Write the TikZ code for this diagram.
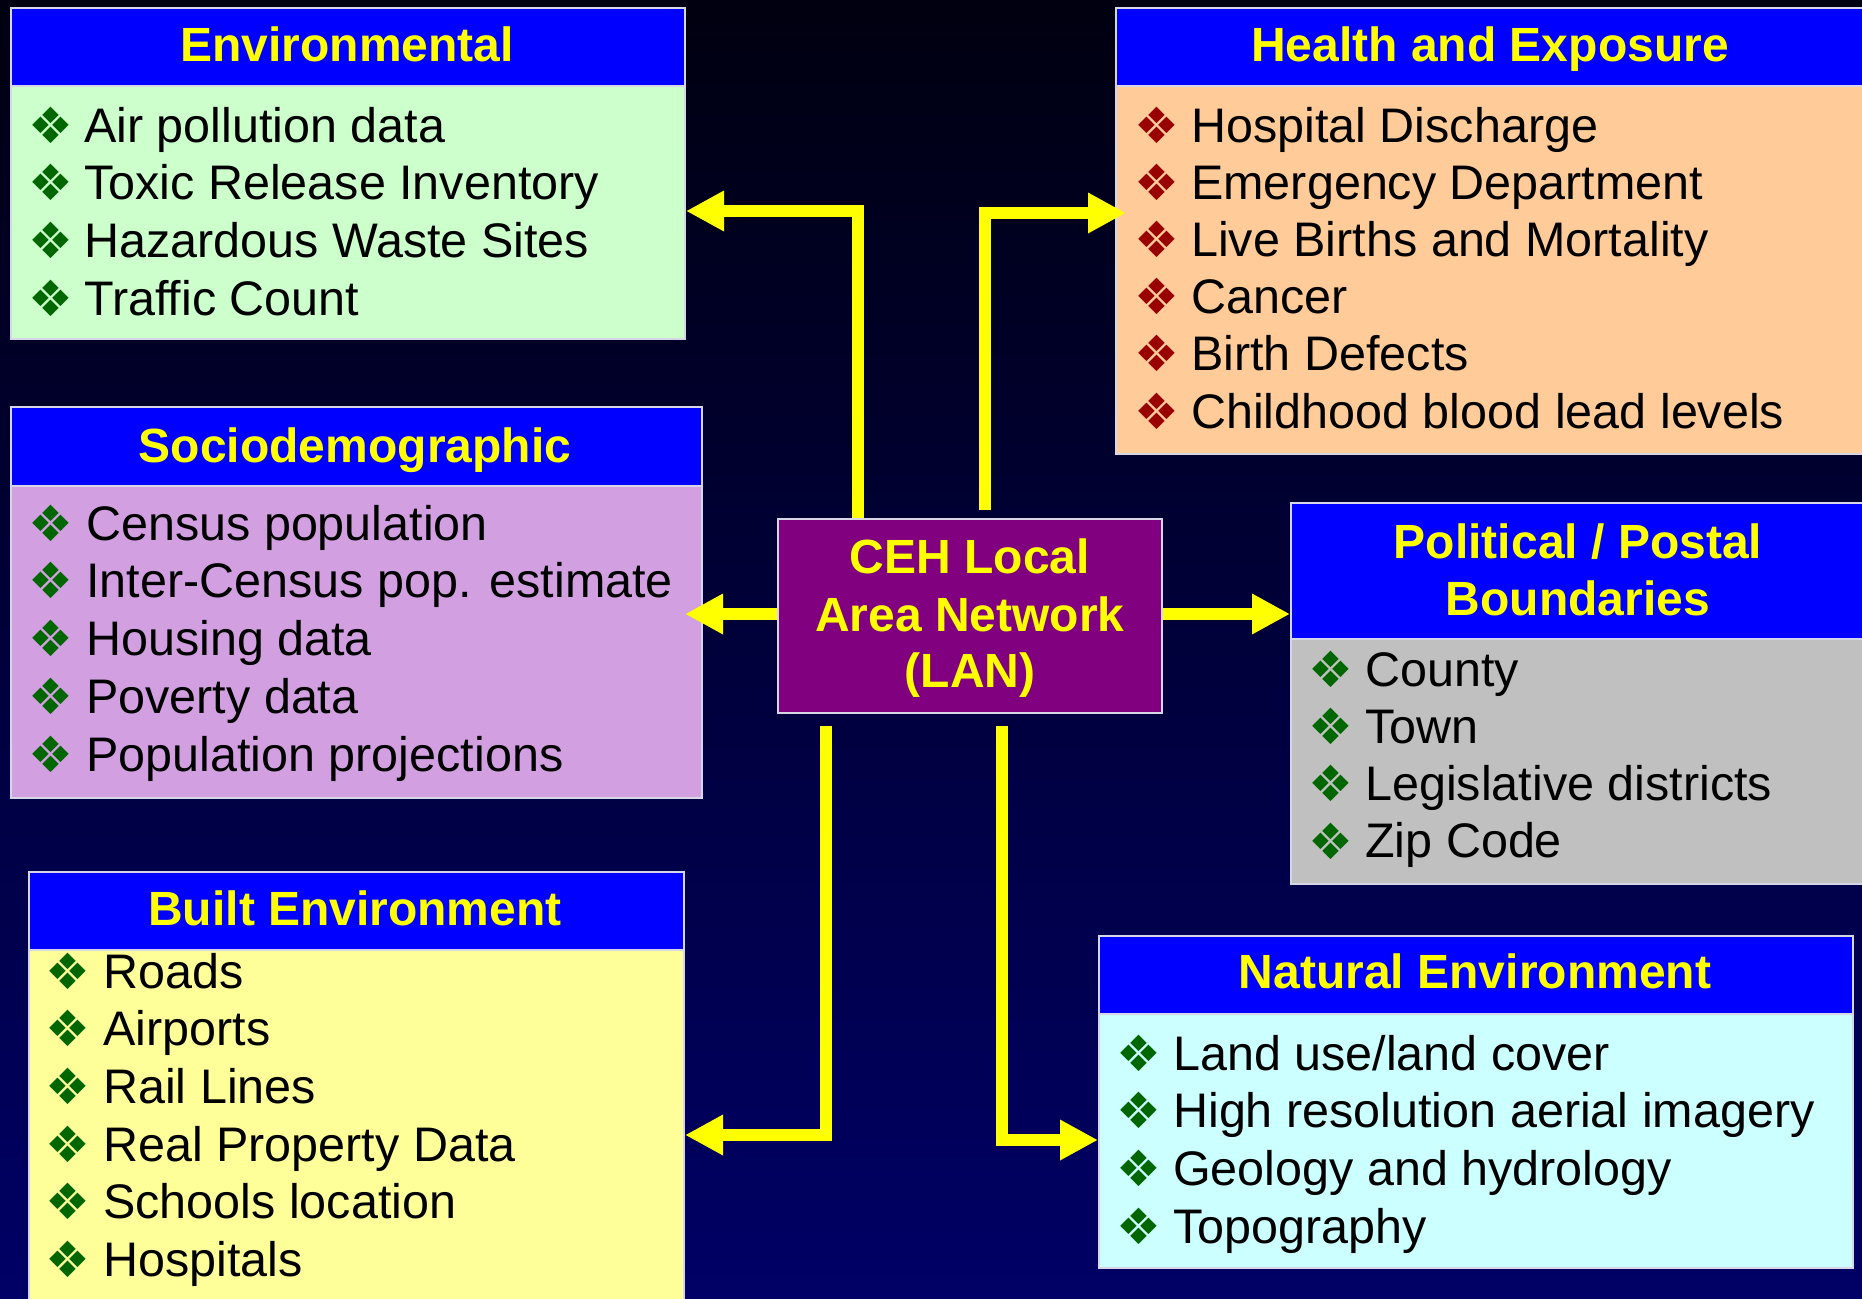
\documentclass[tikz,border=0pt]{standalone}
\usepackage{fontspec}
\setmainfont{Liberation Sans}
\newfontfamily\bulfont{DejaVu Sans}
\usetikzlibrary{arrows.meta}
\definecolor{bgtop}{RGB}{0,0,16}
\definecolor{bgbot}{RGB}{0,0,102}
\definecolor{hdr}{RGB}{0,0,255}
\definecolor{edge}{RGB}{214,214,230}
\definecolor{envfill}{RGB}{204,255,204}
\definecolor{socfill}{RGB}{210,160,224}
\definecolor{bltfill}{RGB}{255,255,153}
\definecolor{heafill}{RGB}{255,204,153}
\definecolor{polfill}{RGB}{192,192,192}
\definecolor{natfill}{RGB}{204,255,255}
\definecolor{cehfill}{RGB}{128,0,128}
\definecolor{bulgreen}{RGB}{0,102,0}
\definecolor{bulred}{RGB}{153,0,0}
\definecolor{ylw}{RGB}{255,255,0}
\begin{document}
\begin{tikzpicture}[x=1pt,y=-1pt,
  panel/.style={draw=edge,line width=2pt,inner sep=0pt,anchor=north west,rectangle},
  hdrtext/.style={anchor=base,inner sep=0pt,text=ylw,font=\fontsize{48}{57}\selectfont\bfseries},
  itemtext/.style={anchor=base west,inner sep=0pt,text=black,font=\fontsize{48.5}{57}\selectfont},
  bul/.style={anchor=center,inner sep=0pt,font=\bulfont\fontsize{50}{50}\selectfont},
  gbul/.style={bul,text=bulgreen},
  rbul/.style={bul,text=bulred},
  arr/.style={draw=ylw,line width=12pt,line join=miter,-{Triangle[length=38pt,width=38pt]}}]
\useasboundingbox (0,0) rectangle (1862,1298);
\clip (0,0) rectangle (1862,1298);
\shade[top color=bgtop,bottom color=bgbot] (0,0) rectangle (1862,1298);

% Environmental
\node[panel,fill=envfill,minimum width=674pt,minimum height=331pt] (env) at (10,7) {};
\node[panel,fill=hdr,minimum width=674pt,minimum height=78pt] (env-h) at (10,7) {};
\node[hdrtext] (env-title) at (347,62) {Environmental};
\foreach \t [count=\i from 0] in {Air pollution data,Toxic Release Inventory,Hazardous Waste Sites,Traffic Count}{
  \node[gbul] (env-b\i) at (51,{125+57.7*\i}) {❖};
  \node[itemtext] (env-t\i) at (84,{142+57.7*\i}) {\t};
}

% Sociodemographic
\node[panel,fill=socfill,minimum width=691pt,minimum height=391pt] (soc) at (10,406) {};
\node[panel,fill=hdr,minimum width=691pt,minimum height=79pt] (soc-h) at (10,406) {};
\node[hdrtext] (soc-title) at (355,462) {Sociodemographic};
\foreach \t [count=\i from 0] in {Census population,Inter-Census pop. estimate,Housing data,Poverty data,Population projections}{
  \node[gbul] (soc-b\i) at (51,{523+57.75*\i}) {❖};
  \node[itemtext] (soc-t\i) at (86,{540+57.75*\i}) {\t};
}

% Built Environment
\node[panel,fill=bltfill,minimum width=655pt,minimum height=440pt] (blt) at (28,871) {};
\node[panel,fill=hdr,minimum width=655pt,minimum height=78pt] (blt-h) at (28,871) {};
\node[hdrtext] (blt-title) at (355,925) {Built Environment};
\foreach \t [count=\i from 0] in {Roads,Airports,Rail Lines,Real Property Data,Schools location,Hospitals}{
  \node[gbul] (blt-b\i) at (68,{971+57.7*\i}) {❖};
  \node[itemtext] (blt-t\i) at (103,{988+57.7*\i}) {\t};
}

% Health and Exposure
\node[panel,fill=heafill,minimum width=750pt,minimum height=446pt] (hea) at (1115,7) {};
\node[panel,fill=hdr,minimum width=750pt,minimum height=78pt] (hea-h) at (1115,7) {};
\node[hdrtext] (hea-title) at (1490,61) {Health and Exposure};
\foreach \t [count=\i from 0] in {Hospital Discharge,Emergency Department,Live Births and Mortality,Cancer,Birth Defects,Childhood blood lead levels}{
  \node[rbul] (hea-b\i) at (1157,{125+57.2*\i}) {❖};
  \node[itemtext] (hea-t\i) at (1191,{142+57.2*\i}) {\t};
}

% Political / Postal Boundaries
\node[panel,fill=polfill,minimum width=576pt,minimum height=381pt] (pol) at (1290,502) {};
\node[panel,fill=hdr,minimum width=576pt,minimum height=136pt] (pol-h) at (1290,502) {};
\node[hdrtext] (pol-title1) at (1578,558) {Political / Postal};
\node[hdrtext] (pol-title2) at (1578,615) {Boundaries};
\foreach \t [count=\i from 0] in {County,Town,Legislative districts,Zip Code}{
  \node[gbul] (pol-b\i) at (1331,{669+57.3*\i}) {❖};
  \node[itemtext] (pol-t\i) at (1365,{686+57.3*\i}) {\t};
}

% Natural Environment
\node[panel,fill=natfill,minimum width=754pt,minimum height=332pt] (nat) at (1098,935) {};
\node[panel,fill=hdr,minimum width=754pt,minimum height=78pt] (nat-h) at (1098,935) {};
\node[hdrtext] (nat-title) at (1475,988) {Natural Environment};
\foreach \t [count=\i from 0] in {Land use/land cover,High resolution aerial imagery,Geology and hydrology,Topography}{
  \node[gbul] (nat-b\i) at (1139,{1053+57.7*\i}) {❖};
  \node[itemtext] (nat-t\i) at (1173,{1070+57.7*\i}) {\t};
}

% Centre
\node[draw=edge,line width=2pt,fill=cehfill,minimum width=384pt,minimum height=194pt,inner sep=0pt] (ceh) at (970,616) {};
\node[hdrtext] (ceh-t1) at (970,573) {CEH Local};
\node[hdrtext] (ceh-t2) at (970,631) {Area Network};
\node[hdrtext] (ceh-t3) at (970,687) {(LAN)};

% Connectors
\coordinate (k1) at (858,211);
\coordinate (k2) at (985,213);
\coordinate (k5) at (826,1135);
\coordinate (k6) at (1001.5,1140);
\draw[arr] (ceh.north -| k1) -- (k1) -- (env.east |- k1);
\draw[arr] ([yshift=8pt]ceh.north -| k2) -- (k2) -- ([xshift=11pt]hea.west |- k2);
\draw[arr] (ceh.west |- 0,614) -- ([xshift=-18pt]soc.east |- 0,614);
\draw[arr] (ceh.east |- 0,614) -- (pol.west |- 0,614);
\draw[arr] ([yshift=-12pt]ceh.south -| k5) -- (k5) -- (blt.east |- k5);
\draw[arr] ([yshift=-12pt]ceh.south -| k6) -- (k6) -- (nat.west |- k6);
\end{tikzpicture}
\end{document}
